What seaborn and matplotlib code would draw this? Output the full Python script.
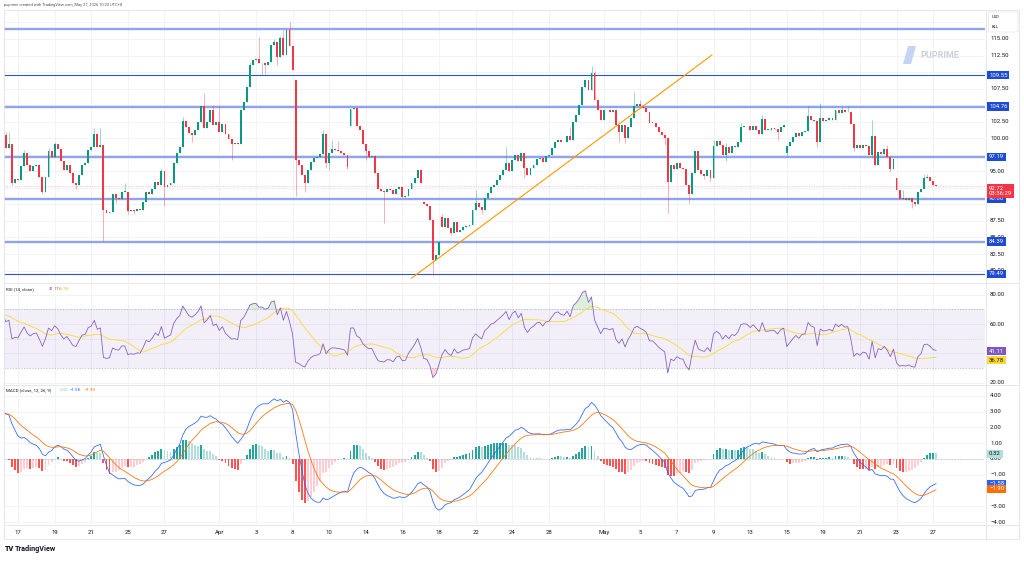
import numpy as np
import pandas as pd
import matplotlib
matplotlib.use("Agg")
import matplotlib.pyplot as plt
import seaborn as sns
from matplotlib.patches import Polygon, FancyBboxPatch
from matplotlib.lines import Line2D

sns.set_theme(style="white")
plt.rcParams['font.family'] = ['Roboto', 'DejaVu Sans']

# ---- data (4h candles, index 0 = first visible bar) ----
# history before the visible window (needed for the indicators)
pre_closes = [81.0, 83.2, 82.1, 84.6, 82.9, 85.0, 84.2, 86.5, 84.8, 87.3,
              85.9, 88.1, 86.2, 88.6, 87.5, 90.1, 88.0, 90.4, 89.3, 91.8,
              90.1, 92.0, 91.2, 93.6, 91.5, 94.0, 93.1, 95.4, 93.5, 96.0,
              94.8, 96.9, 95.2, 97.8, 96.9, 98.9, 97.3, 99.6, 98.6, 100.5]

closes = [98.5, 99.2, 93.3, 93.9, 93.7, 95.8, 97.8, 95.9, 95.0, 95.8,
          96.0, 94.2, 91.9, 94.2, 98.0, 97.2, 99.1, 98.3, 96.5, 95.2,
          96.0, 94.7, 93.2, 92.9, 94.5, 96.0, 96.2, 98.2, 98.7, 100.6,
          98.6, 99.0, 89.2, 88.7, 88.9, 91.6, 91.0, 90.8, 91.9, 91.9,
          89.0, 89.2, 89.0, 89.3, 89.2, 90.3, 91.8, 91.5, 92.3, 93.4,
          92.9, 95.0, 92.6, 93.0, 93.3, 96.2, 97.7, 98.7, 102.6, 101.7,
          100.8, 100.5, 101.3, 102.4, 104.8, 101.5, 102.5, 104.2, 102.0, 102.5,
          101.0, 102.2, 100.6, 99.9, 99.2, 99.3, 99.1, 104.3, 105.5, 107.8,
          111.1, 111.8, 112.0, 111.3, 111.4, 111.0, 111.5, 114.1, 114.6, 112.3,
          115.1, 112.6, 116.3, 113.9, 110.3, 96.7, 95.9, 94.4, 93.3, 95.2,
          96.4, 97.0, 97.2, 97.6, 100.7, 96.3, 97.7, 98.3, 98.2, 98.0,
          97.8, 97.5, 95.7, 104.4, 104.5, 101.9, 101.2, 99.2, 98.0, 97.2,
          97.3, 94.8, 92.4, 92.0, 91.8, 92.3, 92.2, 91.5, 92.4, 92.6,
          91.1, 91.2, 92.4, 93.2, 94.0, 95.2, 93.3, 90.0, 89.8, 87.6,
          81.6, 82.3, 84.3, 86.6, 87.9, 86.4, 85.7, 87.3, 85.9, 86.2,
          86.6, 86.7, 86.9, 89.2, 90.2, 89.6, 89.1, 91.0, 91.7, 92.7,
          93.0, 93.7, 94.4, 95.2, 96.2, 95.0, 96.7, 97.5, 96.5, 97.8,
          95.5, 94.5, 95.5, 96.0, 96.8, 97.0, 96.4, 97.3, 97.5, 98.5,
          99.5, 99.8, 99.5, 99.4, 100.3, 99.7, 102.5, 103.5, 105.0, 107.8,
          108.8, 107.3, 109.8, 105.8, 104.3, 102.7, 104.3, 104.2, 104.0, 104.3,
          102.0, 101.0, 102.0, 100.0, 101.7, 103.0, 104.8, 105.2, 104.8, 104.5,
          104.0, 102.3, 102.3, 101.7, 101.0, 100.5, 100.0, 93.4, 96.0, 95.4,
          96.2, 95.5, 95.4, 93.0, 91.5, 94.7, 98.0, 95.2, 94.6, 94.3,
          95.2, 94.0, 98.8, 99.6, 99.0, 97.5, 98.6, 97.7, 98.8, 98.6,
          99.5, 101.7, 101.9, 101.8, 101.2, 101.9, 101.3, 100.7, 102.9, 101.3,
          101.3, 101.5, 101.4, 100.9, 101.7, 102.0, 98.8, 99.5, 100.2, 100.8,
          100.3, 101.0, 101.1, 103.3, 102.8, 102.6, 99.5, 103.0, 102.6, 102.7,
          103.0, 102.7, 104.2, 103.8, 104.3, 103.9, 104.0, 102.2, 98.5, 99.0,
          98.5, 99.0, 98.8, 97.4, 100.3, 96.0, 97.9, 97.6, 98.3, 97.2,
          95.4, 96.9, 92.2, 90.8, 90.9, 90.7, 90.9, 90.3, 90.1, 91.8,
          92.3, 94.0, 94.1, 93.6, 92.9, 92.72]

# bars that opened away from the previous close
gap_opens = {95: 108.8, 113: 101.9, 137: 90.3, 143: 88.1, 256: 97.7, 292: 94.0}

# notable wicks
wick_highs = {0: 101.0, 1: 101.0, 6: 98.2, 14: 98.5, 16: 99.4, 29: 101.5, 31: 101.5,
              39: 93.3, 51: 95.4, 58: 103.2, 65: 106.8, 68: 105.0, 70: 105.0,
              80: 111.5, 83: 115.3, 88: 115.0, 90: 115.5, 91: 116.4, 93: 117.6,
              104: 101.2, 107: 99.7, 109: 99.6, 121: 97.5, 143: 88.6, 154: 92.2,
              164: 98.6, 185: 101.7, 192: 110.9, 193: 110.2, 206: 107.0, 208: 105.8,
              217: 100.2, 232: 99.8, 236: 99.3, 241: 102.3, 248: 103.5, 263: 104.8,
              267: 105.3, 274: 104.8, 276: 104.8, 284: 102.7, 289: 99.0, 294: 92.2,
              301: 94.6, 302: 94.6}
wick_lows = {2: 93.0, 12: 91.5, 23: 92.4, 32: 84.4, 36: 90.2, 40: 88.5, 42: 88.6,
             52: 89.7, 61: 99.4, 74: 96.7, 84: 109.6, 85: 109.6, 89: 111.0,
             95: 91.2, 98: 91.9, 105: 95.5, 106: 95.2, 112: 95.3, 118: 96.7,
             124: 87.2, 140: 79.2, 146: 85.4, 156: 88.5, 170: 94.0, 201: 99.5,
             203: 99.3, 216: 99.0, 217: 88.7, 224: 90.2, 229: 93.8, 231: 93.5,
             236: 96.5, 253: 99.7, 256: 97.2, 266: 98.7, 278: 98.0, 284: 97.0,
             290: 94.9, 297: 89.4, 298: 89.7}

levels = [116.51, 109.55, 104.76, 97.19, 90.88, 84.39, 79.49]
level_thick = [True, False, True, True, True, True, False]
level_shown = [False, True, True, True, True, True, True]
trend_idx = [132.9, 231.5]
trend_price = [78.82, 112.58]
last_price = 92.72
countdown = "03:36:29"

tick_pos = [4, 16, 28, 40, 52, 70, 82, 94, 106, 118, 130, 142, 154, 166, 178,
            196, 208, 220, 232, 244, 256, 268, 280, 292, 304]
tick_lab = ['17', '19', '21', '25', '27', 'Apr', '3', '8', '10', '14', '16', '18',
            '22', '24', '28', 'May', '5', '7', '9', '13', '15', '19', '21', '23', '27']
price_grid = [80.0, 82.5, 85.0, 87.5, 90.0, 92.5, 95.0, 97.5, 100.0, 102.5,
              105.0, 107.5, 110.0, 112.5, 115.0, 117.5]
price_labels = [115.0, 112.5, 107.5, 102.5, 100.0, 95.0, 87.5, 85.0, 82.5, 80.0]
rsi_labels = [80, 60, 20]
macd_labels = [4, 3, 2, 1, 0, -1, -3, -4]
rsi_val, rsi_ma_val = 41.11, 36.78
hist_val, macd_val, sig_val = 0.32, -1.58, -1.90

# ---- build series ----
all_c = np.array(pre_closes + closes, dtype=float)
n_pre = len(pre_closes)
idx = np.arange(len(all_c)) - n_pre
opens = np.r_[all_c[0], all_c[:-1]]
for k, v in gap_opens.items():
    opens[k + n_pre] = v
highs = np.maximum(opens, all_c)
lows = np.minimum(opens, all_c)
for k, v in wick_highs.items():
    highs[k + n_pre] = max(highs[k + n_pre], v)
for k, v in wick_lows.items():
    lows[k + n_pre] = min(lows[k + n_pre], v)

s = pd.Series(all_c)
macd = s.ewm(span=12, adjust=False).mean() - s.ewm(span=26, adjust=False).mean()
signal = macd.ewm(span=9, adjust=False).mean()
hist = macd - signal
delta = s.diff()
gain = delta.clip(lower=0).ewm(alpha=1 / 14, adjust=False).mean()
loss = (-delta.clip(upper=0)).ewm(alpha=1 / 14, adjust=False).mean()
rsi = 100 - 100 / (1 + gain / loss)
rsi_ma = rsi.rolling(14).mean()
df = pd.DataFrame({'i': idx, 'rsi': rsi, 'rsi_ma': rsi_ma, 'macd': macd,
                   'signal': signal, 'hist': hist})

# ---- figure ----
W, H = 1024, 562
fig = plt.figure(figsize=(W / 100, H / 100), dpi=100)
fig.patch.set_facecolor('white')


def px_axes(x0, y0, x1, y1):
    return fig.add_axes([x0 / W, 1 - y1 / H, (x1 - x0) / W, (y1 - y0) / H])


ax = px_axes(4, 10, 985, 282)
ax_rsi = px_axes(4, 283, 985, 384)
ax_macd = px_axes(4, 385, 985, 525)

UP, DN = '#089981', '#F23645'
GRID = '#F2F3F6'
TXT = '#131722'
FS = 4.3

for a in (ax, ax_rsi, ax_macd):
    a.set_xlim(-0.6, 321)
    a.set_xticks(tick_pos)
    a.tick_params(length=0, labelsize=FS, colors=TXT, pad=3.5)
    a.grid(True, color=GRID, lw=0.7)
    for sp in a.spines.values():
        sp.set_visible(False)
    a.set_yticklabels([])
    a.set_xticklabels([])
    a.set_axisbelow(True)

# main price pane
ax.set_ylim(78.27, 119.38)
ax.set_yticks(price_grid)
up_mask = all_c >= opens
col = np.where(up_mask, UP, DN)
ax.vlines(idx, lows, highs, colors=col, lw=0.55, alpha=0.5, zorder=2)
body = np.maximum(np.abs(all_c - opens), 0.08)
ax.bar(idx, body, bottom=np.minimum(opens, all_c), width=0.62, color=col,
       linewidth=0, zorder=3)

for lv, thick in zip(levels, level_thick):
    if thick:
        ax.axhline(lv, color='#8FA4EA', lw=1.7, zorder=1.5)
    else:
        ax.axhline(lv, color='#2F55C9', lw=0.8, zorder=1.5)
ax.plot(trend_idx, trend_price, color='#FF9800', lw=0.8, zorder=4)
ax.axhline(last_price, color=DN, lw=0.5, ls=(0, (1.5, 2)), alpha=0.45, zorder=1.6)

ytr = ax.get_yaxis_transform()
for p in price_labels:
    ax.text(1.0052, p, f"{p:.2f}", transform=ytr, fontsize=FS, color=TXT,
            va='center', ha='left', clip_on=False)
for lv, shown in zip(levels, level_shown):
    if shown:
        ax.text(1.0042, lv, f"{lv:.2f}", transform=ytr, fontsize=FS, color='white',
                va='center', ha='left', clip_on=False, zorder=10,
                bbox=dict(boxstyle='square,pad=0.3', fc='#1E4BD2', ec='none'))
ax.text(1.0042, last_price - 0.7, f"{last_price:.2f}\n{countdown}", transform=ytr,
        fontsize=FS, color='white', va='center', ha='left', clip_on=False, zorder=11,
        linespacing=1.2, bbox=dict(boxstyle='square,pad=0.3', fc=DN, ec='none'))

# RSI pane
ax_rsi.set_ylim(19.13, 87.98)
ax_rsi.set_yticks([20, 40, 60, 80])
ax_rsi.axhspan(30, 70, color='#7E57C2', alpha=0.09, lw=0)
for lv, ls, al in ((70, (0, (2, 2)), 0.6), (50, (0, (1, 2)), 0.35), (30, (0, (2, 2)), 0.6)):
    ax_rsi.axhline(lv, color='#787B86', lw=0.5, ls=ls, alpha=al)
ax_rsi.fill_between(df['i'], 70, df['rsi'], where=df['rsi'] > 70, color='#4CAF50',
                    alpha=0.2, lw=0, interpolate=True)
ax_rsi.fill_between(df['i'], 30, df['rsi'], where=df['rsi'] < 30, color='#F23645',
                    alpha=0.2, lw=0, interpolate=True)
sns.lineplot(data=df, x='i', y='rsi_ma', ax=ax_rsi, color='#FDD835', lw=0.6, legend=False)
sns.lineplot(data=df, x='i', y='rsi', ax=ax_rsi, color='#7E57C2', lw=0.55, legend=False)
ax_rsi.set_xlabel('')
ax_rsi.set_ylabel('')
rtr = ax_rsi.get_yaxis_transform()
for r in rsi_labels:
    ax_rsi.text(1.0052, r, f"{r:.2f}", transform=rtr, fontsize=FS, color=TXT,
                va='center', ha='left', clip_on=False)
ax_rsi.text(1.0042, rsi_val + 0.5, f"{rsi_val:.2f}", transform=rtr, fontsize=FS,
            color='white', va='center', ha='left', clip_on=False,
            bbox=dict(boxstyle='square,pad=0.3', fc='#7E57C2', ec='none'))
ax_rsi.text(1.0042, rsi_ma_val - 1.4, f"{rsi_ma_val:.2f}", transform=rtr, fontsize=FS,
            color=TXT, va='center', ha='left', clip_on=False,
            bbox=dict(boxstyle='square,pad=0.3', fc='#FDD835', ec='none'))

# MACD pane
ax_macd.set_ylim(-4.18, 4.68)
ax_macd.set_yticks(macd_labels)
prev = df['hist'].shift(1)
hcol = np.where(df['hist'] >= 0,
                np.where(prev < df['hist'], '#26A69A', '#B2DFDB'),
                np.where(prev < df['hist'], '#FFCDD2', '#FF5252'))
ax_macd.bar(df['i'], df['hist'], width=0.62, color=hcol, linewidth=0)
ax_macd.axhline(0, color='#787B86', lw=0.5, ls=(0, (2, 2)), alpha=0.5)
sns.lineplot(data=df, x='i', y='macd', ax=ax_macd, color='#2962FF', lw=0.55, legend=False)
sns.lineplot(data=df, x='i', y='signal', ax=ax_macd, color='#FF6D00', lw=0.55, legend=False)
ax_macd.set_xlabel('')
ax_macd.set_ylabel('')
ax_macd.set_xticklabels(tick_lab)
mtr = ax_macd.get_yaxis_transform()
for m in macd_labels:
    ax_macd.text(1.0052, m, f"{m:.2f}".replace('-', '\u2212'), transform=mtr, fontsize=FS,
                 color=TXT, va='center', ha='left', clip_on=False)
for v, fc, tc in ((hist_val, '#B2DFDB', TXT), (macd_val, '#2962FF', 'white'),
                  (sig_val, '#FF6D00', 'white')):
    ax_macd.text(1.0042, v, f"{v:.2f}".replace('-', '\u2212'), transform=mtr, fontsize=FS,
                 color=tc, va='center', ha='left', clip_on=False, zorder=10,
                 bbox=dict(boxstyle='square,pad=0.3', fc=fc, ec='none'))


# ---- frame, legends and labels ----
def fx(x):
    return x / W


def fy(y):
    return 1 - y / H


BORDER = '#E0E3EB'
for y in (10, 282.5, 384.5, 525, 539):
    fig.add_artist(Line2D([fx(4), fx(1019)], [fy(y), fy(y)], color=BORDER, lw=0.6))
for x in (4, 985.5, 1019):
    fig.add_artist(Line2D([fx(x), fx(x)], [fy(10), fy(539)], color=BORDER, lw=0.6))

fig.text(fx(4), fy(5), "puprime created with TradingView.com, May 27, 2026 10:23 UTC+8",
         fontsize=2.9, color='#50535E', va='center', ha='left')

fig.add_artist(FancyBboxPatch((fx(988.5), fy(32)), fx(29.5), 20 / H,
                              boxstyle='round,pad=0,rounding_size=0.002',
                              fc='white', ec=BORDER, lw=0.5))
fig.text(fx(992), fy(17), "USD", fontsize=3.0, color=TXT, va='center')
fig.text(fx(992), fy(27), "BLL", fontsize=3.0, color=TXT, va='center')

LFS = 3.2
fig.text(fx(6), fy(289.5), "RSI (14, close)", fontsize=LFS, color=TXT, va='center')
fig.text(fx(49), fy(289.5), f"{rsi_val:.2f}", fontsize=LFS, color='#7E57C2', va='center')
fig.text(fx(58), fy(289.5), f"{rsi_ma_val:.2f}", fontsize=LFS, color='#F9A825', va='center')
fig.text(fx(6), fy(390), "MACD (close, 12, 26, 9)", fontsize=LFS, color=TXT, va='center')
fig.text(fx(60), fy(390), f"{hist_val:.2f}", fontsize=LFS, color='#80CBC4', va='center')
fig.text(fx(70), fy(390), f"{macd_val:.2f}".replace('-', '\u2212'), fontsize=LFS,
         color='#2962FF', va='center')
fig.text(fx(85), fy(390), f"{sig_val:.2f}".replace('-', '\u2212'), fontsize=LFS,
         color='#FF6D00', va='center')

# watermark
fig.add_artist(Polygon([[fx(903), fy(64)], [fx(908), fy(46)], [fx(916), fy(46)],
                        [fx(911), fy(64)]], closed=True, fc='#C5D4F2', ec='none'))
fig.text(fx(920), fy(56), "PUPRIME", fontsize=6.5, color='#CDD1D9', fontweight='bold',
         va='center', ha='left')

fig.text(fx(5), fy(549), "TV", fontsize=5.2, color=TXT, fontweight='heavy',
         va='center', ha='left')
fig.text(fx(15), fy(549), "TradingView", fontsize=5.2, color=TXT, fontweight='bold',
         va='center', ha='left')

fig.savefig("out.png", dpi=100, facecolor='white')
